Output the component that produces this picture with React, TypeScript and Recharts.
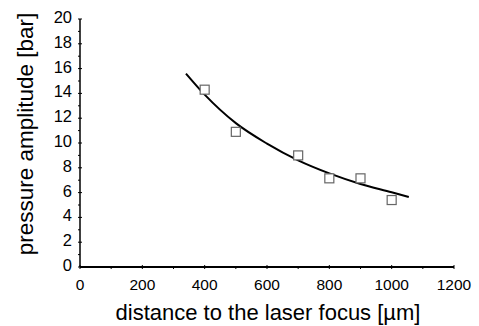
import { ComposedChart, Line, Scatter, XAxis, YAxis } from "recharts";

// measured points (open squares)
const measuredX = [400, 500, 700, 800, 900, 1000];
const measuredY = [14.3, 10.9, 9.0, 7.15, 7.15, 5.4];

// fitted curve
const fitX = [340, 400, 500, 600, 700, 800, 900, 1000, 1055];
const fitY = [15.6, 13.9, 11.6, 9.95, 8.6, 7.55, 6.7, 6.03, 5.65];

const xTicks = [0, 100, 200, 300, 400, 500, 600, 700, 800, 900, 1000, 1100, 1200];
const xLabelTicks = [0, 200, 400, 600, 800, 1000, 1200];
const yTicks = [0, 1, 2, 3, 4, 5, 6, 7, 8, 9, 10, 11, 12, 13, 14, 15, 16, 17, 18, 19, 20];

const measured = measuredX.map((x, i) => ({ x, y: measuredY[i] }));
const fit = fitX.map((x, i) => ({ x, y: fitY[i] }));

const FONT = "'Liberation Sans', Arial, sans-serif";

function XTick({ x, y, payload }: any) {
  const major = xLabelTicks.includes(payload.value);
  return (
    <g>
      <line x1={x} x2={x} y1={y} y2={y - (major ? 4 : 2)} stroke="#000" strokeWidth={1} />
      {major && (
        <text x={x} y={y + 15} textAnchor="middle" dominantBaseline="central" fontSize={15.5} fill="#000" fontFamily={FONT}>
          {payload.value}
        </text>
      )}
    </g>
  );
}

function YTick({ x, y, payload }: any) {
  const major = payload.value % 2 === 0;
  return (
    <g>
      <line x1={x} x2={x + (major ? 4 : 2)} y1={y} y2={y} stroke="#000" strokeWidth={1} />
      {major && (
        <text x={x - 6} y={y - 2} textAnchor="end" dominantBaseline="central" fontSize={16.5} fill="#000" fontFamily={FONT}>
          {payload.value}
        </text>
      )}
    </g>
  );
}

function Square({ cx, cy }: any) {
  return <rect x={cx - 4.5} y={cy - 4.5} width={9} height={9} fill="#fff" stroke="#666" strokeWidth={1.2} />;
}

export default function App() {
  return (
    <div style={{ position: "absolute", left: 0, top: 0, background: "#fff" }}>
      <ComposedChart width={479} height={326} margin={{ top: 19, right: 25, left: 0, bottom: 0 }}>
        <XAxis
          type="number"
          dataKey="x"
          domain={[0, 1200]}
          ticks={xTicks}
          interval={0}
          tick={<XTick />}
          tickLine={false}
          tickSize={0}
          axisLine={{ stroke: "#000", strokeWidth: 2 }}
          height={59}
          label={{
            content: () => (
              <text x={268} y={320} textAnchor="middle" fontSize={22} fill="#000" fontFamily={FONT}>
                distance to the laser focus [µm]
              </text>
            ),
          }}
        />
        <YAxis
          type="number"
          dataKey="y"
          domain={[0, 20]}
          ticks={yTicks}
          interval={0}
          tick={<YTick />}
          tickLine={false}
          tickSize={0}
          axisLine={{ stroke: "#000", strokeWidth: 1.5 }}
          width={80}
          label={{
            content: () => (
              <text
                transform="translate(25,134) rotate(-90)"
                textAnchor="middle"
                dominantBaseline="central"
                fontSize={22.5}
                fill="#000"
                fontFamily={FONT}
              >
                pressure amplitude [bar]
              </text>
            ),
          }}
        />
        <Line
          data={fit}
          dataKey="y"
          type="monotone"
          stroke="#000"
          strokeWidth={2}
          dot={false}
          activeDot={false}
          isAnimationActive={false}
        />
        <Scatter data={measured} dataKey="y" shape={<Square />} isAnimationActive={false} />
      </ComposedChart>
    </div>
  );
}
